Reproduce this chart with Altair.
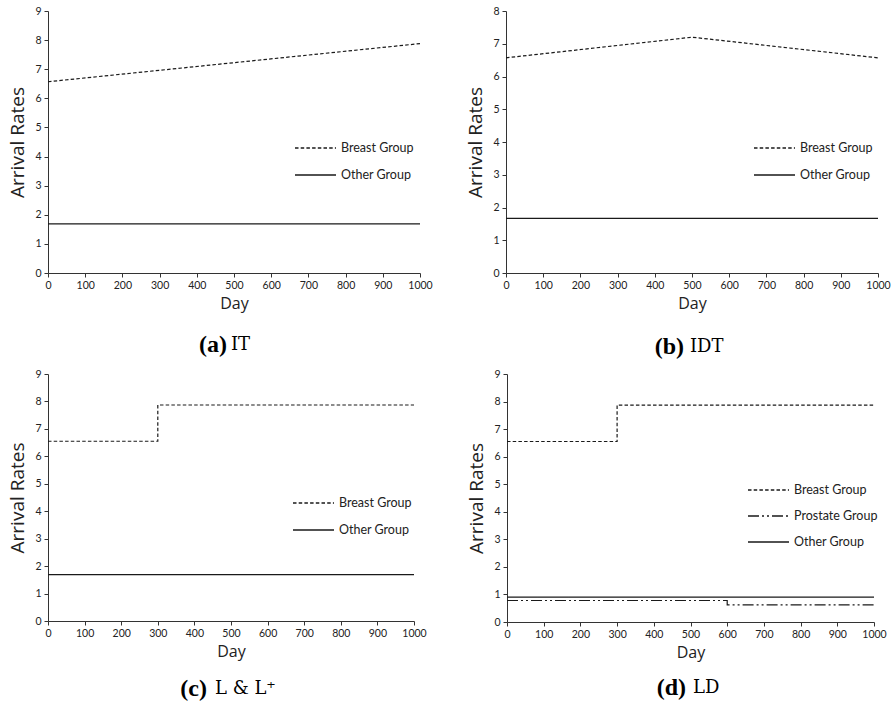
import altair as alt
import pandas as pd

# ---- data ----
days_a = [0, 1000]
breast_a = [6.57, 7.88]
other_a = [1.69, 1.69]

days_b = [0, 500, 1000]
breast_b = [6.57, 7.2, 6.57]
other_b = [1.67, 1.67, 1.67]

days_c = [0, 300, 1000]
breast_c = [6.55, 7.87, 7.87]
other_c = [1.69, 1.69, 1.69]

days_d = [0, 300, 1000]
breast_d = [6.55, 7.87, 7.87]
days_pd = [0, 600, 1000]
prostate_d = [0.78, 0.62, 0.62]
other_d = [0.9, 0.9, 0.9]

x_ticks = list(range(0, 1001, 100))
captions = [("(a)", "IT"), ("(b)", "IDT"), ("(c)", "L & L\u207a"), ("(d)", "LD")]
legend_two = ["Breast Group", "Other Group"]
legend_three = ["Breast Group", "Prostate Group", "Other Group"]

DASH = {"Breast Group": [3.5, 2.2], "Prostate Group": [11, 3, 2, 3, 2, 3], "Other Group": [1, 0]}
SANS = "Lato"
TITLE_FONT = "Open Sans"
SERIF_B = "Liberation Serif"
SERIF = "DejaVu Serif"


def series_layer(days, vals, name, ymax, step=False):
    df = pd.DataFrame({"Day": days, "Rate": vals})
    kw = dict(color="#1a1a1a", strokeWidth=1.2, strokeDash=DASH[name])
    if step:
        kw["interpolate"] = "step-after"
    return alt.Chart(df).mark_line(**kw).encode(
        x=alt.X("Day:Q", scale=alt.Scale(domain=[0, 1000], nice=False),
                axis=alt.Axis(values=x_ticks, title="Day", format="d",
                              labelOverlap=False, labelFlush=False,
                              titleFont=TITLE_FONT, titleFontSize=16, titlePadding=5)),
        y=alt.Y("Rate:Q", scale=alt.Scale(domain=[0, ymax], nice=False),
                axis=alt.Axis(values=list(range(0, ymax + 1)), title="Arrival Rates",
                              format="d", labelOverlap=False, labelFlush=False,
                              titleFont=TITLE_FONT, titleFontSize=19, titlePadding=7,
                              titleLimit=400)),
    )


def legend_layers(items, lx, ly, gap):
    layers = []
    for i, name in enumerate(items):
        df = pd.DataFrame({"label": [name]})
        yy = ly + i * gap
        layers.append(alt.Chart(df).mark_rule(color="#1a1a1a", strokeWidth=1.3, strokeDash=DASH[name]).encode(
            x=alt.value(lx), x2=alt.value(lx + 41), y=alt.value(yy)))
        layers.append(alt.Chart(df).mark_text(align="left", baseline="middle", font=SANS, fontSize=12.5,
                                              color="#222").encode(
            x=alt.value(lx + 46), y=alt.value(yy), text="label:N"))
    return layers


def caption_layers(cap, cx, lx, cy):
    letter, label = cap
    d1 = pd.DataFrame({"t": [letter]})
    d2 = pd.DataFrame({"t": [label]})
    return [
        alt.Chart(d1).mark_text(align="right", baseline="middle", font=SERIF_B, fontSize=24,
                                fontWeight="bold", color="black").encode(
            x=alt.value(cx), y=alt.value(cy), text="t:N"),
        alt.Chart(d2).mark_text(align="left", baseline="middle", font=SERIF, fontSize=18,
                                color="black").encode(
            x=alt.value(lx), y=alt.value(cy), text="t:N"),
    ]


pa = alt.layer(
    series_layer(days_a, breast_a, "Breast Group", 9),
    series_layer(days_a, other_a, "Other Group", 9),
    *legend_layers(legend_two, 247, 137, 27),
    *caption_layers(captions[0], 179, 183, 262 + 72),
).properties(width=372, height=262)

pb = alt.layer(
    series_layer(days_b, breast_b, "Breast Group", 8),
    series_layer(days_b, other_b, "Other Group", 8),
    *legend_layers(legend_two, 248, 137, 27),
    *caption_layers(captions[1], 178, 184, 262 + 74),
).properties(width=372, height=262)

pc = alt.layer(
    series_layer(days_c, breast_c, "Breast Group", 9, step=True),
    series_layer(days_c, other_c, "Other Group", 9, step=True),
    *legend_layers(legend_two, 245, 129, 27),
    *caption_layers(captions[2], 159, 167, 247 + 68),
).properties(width=366, height=247)

pdd = alt.layer(
    series_layer(days_d, breast_d, "Breast Group", 9, step=True),
    series_layer(days_pd, prostate_d, "Prostate Group", 9, step=True),
    series_layer(days_d, other_d, "Other Group", 9, step=True),
    *legend_layers(legend_three, 241, 116, 26),
    *caption_layers(captions[3], 179, 186, 248 + 66),
).properties(width=367, height=248)

chart = alt.vconcat(
    alt.hconcat(pa, pb, spacing=33),
    alt.hconcat(pc, pdd, spacing=40),
    spacing=10,
).properties(
    padding={"left": 8, "top": 6, "right": 0, "bottom": 0}
).configure_view(stroke=None).configure_axis(
    grid=False, domainColor="#333", tickColor="#333", tickSize=4,
    labelFont=SANS, labelFontSize=10.5, labelColor="#222", labelPadding=3,
    titleFont=TITLE_FONT, titleFontWeight="normal", titleColor="#222",
)

chart.save("out.html", embed_options={"renderer": "svg", "actions": False})
